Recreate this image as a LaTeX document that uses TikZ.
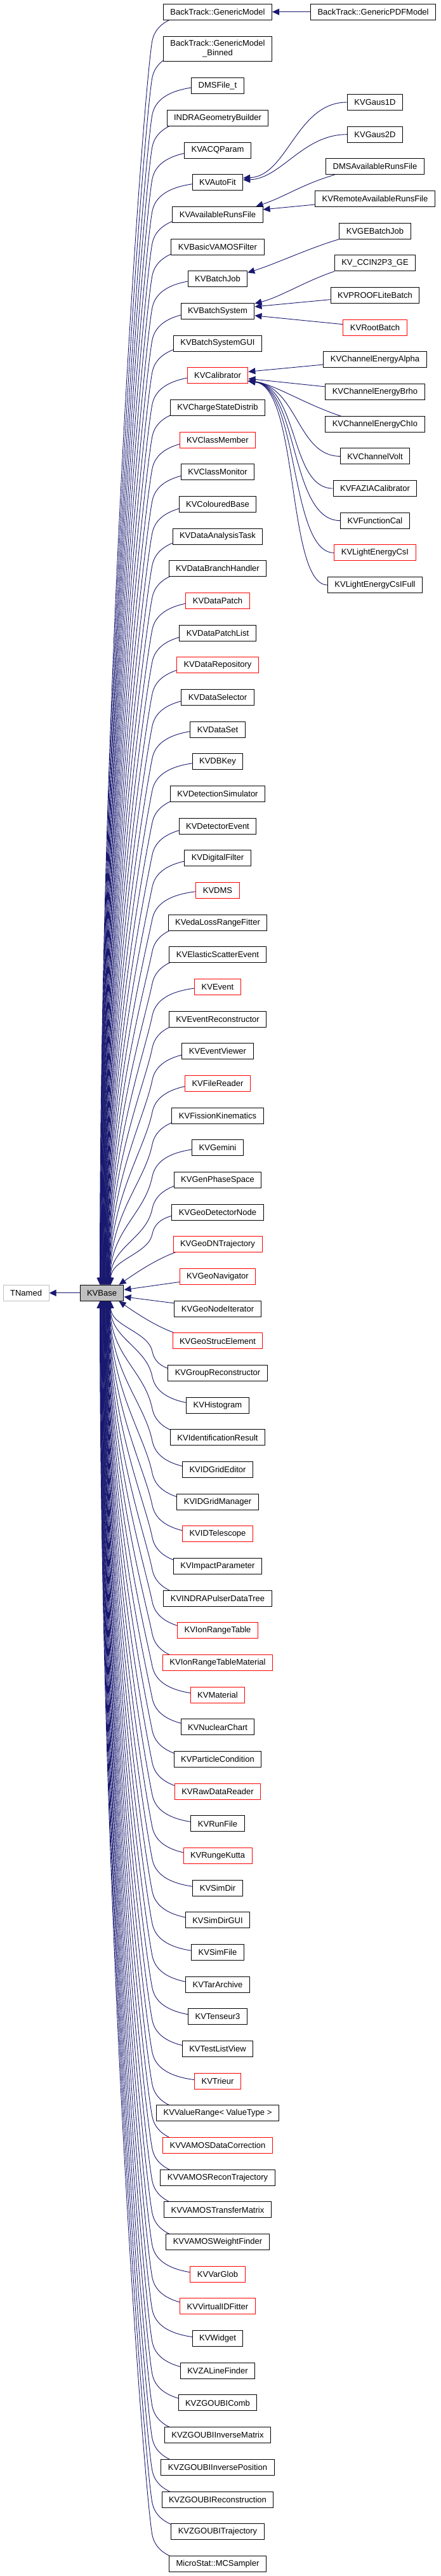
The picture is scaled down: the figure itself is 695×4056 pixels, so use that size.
\documentclass[tikz,border=0pt]{standalone}
\usepackage{fontspec}
\setmainfont{Liberation Sans}
\usetikzlibrary{arrows.meta,positioning,calc}

\definecolor{edgeblue}{HTML}{191970}
\definecolor{basegray}{HTML}{BFBFBF}

\pgfdeclarelayer{background}
\pgfsetlayers{background,main}

\tikzset{
  cls/.style={draw=black, fill=white, line width=1pt, minimum height=25pt,
    inner xsep=11pt, inner ysep=6pt, align=center, font=\fontsize{13}{15}\selectfont},
  redcls/.style={cls, draw=red},
  inh/.style={draw=edgeblue, line width=0.9pt, -{Triangle[length=11pt,width=10pt]}}
}

\begin{document}
\begin{tikzpicture}[x=1pt, y=-1pt, node distance=24.67pt]
  \useasboundingbox (0,0) rectangle (695,4056);

  % main column
  \node[cls] (btgenericmodel) at (343,18.7) {BackTrack::GenericModel};
  \node[cls, right=60pt of btgenericmodel] (btgenericpdfmodel) {BackTrack::GenericPDFModel};
  \node[cls, below=25pt of btgenericmodel] (btgenericmodelbinned) {BackTrack::GenericModel\\\_Binned};
  \node[cls, below=25.5pt of btgenericmodelbinned] (dmsfilet) {DMSFile\_t};
  \node[cls, below=of dmsfilet] (indrageometrybuilder) {INDRAGeometryBuilder};
  \node[cls, below=of indrageometrybuilder] (kvacqparam) {KVACQParam};
  \node[cls, below=of kvacqparam] (kvautofit) {KVAutoFit};
  \node[cls, below=of kvautofit] (kvavailablerunsfile) {KVAvailableRunsFile};
  \node[cls, below=of kvavailablerunsfile] (kvbasicvamosfilter) {KVBasicVAMOSFilter};
  \node[cls, below=of kvbasicvamosfilter] (kvbatchjob) {KVBatchJob};
  \node[cls, below=of kvbatchjob] (kvbatchsystem) {KVBatchSystem};
  \node[cls, below=of kvbatchsystem] (kvbatchsystemgui) {KVBatchSystemGUI};
  \node[redcls, below=of kvbatchsystemgui] (kvcalibrator) {KVCalibrator};
  \node[cls, below=of kvcalibrator] (kvchargestatedistrib) {KVChargeStateDistrib};
  \node[redcls, below=of kvchargestatedistrib] (kvclassmember) {KVClassMember};
  \node[cls, below=of kvclassmember] (kvclassmonitor) {KVClassMonitor};
  \node[cls, below=of kvclassmonitor] (kvcolouredbase) {KVColouredBase};
  \node[cls, below=of kvcolouredbase] (kvdataanalysistask) {KVDataAnalysisTask};
  \node[cls, below=of kvdataanalysistask] (kvdatabranchhandler) {KVDataBranchHandler};
  \node[redcls, below=of kvdatabranchhandler] (kvdatapatch) {KVDataPatch};
  \node[cls, below=of kvdatapatch] (kvdatapatchlist) {KVDataPatchList};
  \node[redcls, below=of kvdatapatchlist] (kvdatarepository) {KVDataRepository};
  \node[cls, below=of kvdatarepository] (kvdataselector) {KVDataSelector};
  \node[cls, below=of kvdataselector] (kvdataset) {KVDataSet};
  \node[cls, below=of kvdataset] (kvdbkey) {KVDBKey};
  \node[cls, below=of kvdbkey] (kvdetectionsimulator) {KVDetectionSimulator};
  \node[cls, below=of kvdetectionsimulator] (kvdetectorevent) {KVDetectorEvent};
  \node[cls, below=of kvdetectorevent] (kvdigitalfilter) {KVDigitalFilter};
  \node[redcls, below=of kvdigitalfilter] (kvdms) {KVDMS};
  \node[cls, below=of kvdms] (kvedalossrangefitter) {KVedaLossRangeFitter};
  \node[cls, below=of kvedalossrangefitter] (kvelasticscatterevent) {KVElasticScatterEvent};
  \node[redcls, below=of kvelasticscatterevent] (kvevent) {KVEvent};
  \node[cls, below=of kvevent] (kveventreconstructor) {KVEventReconstructor};
  \node[cls, below=of kveventreconstructor] (kveventviewer) {KVEventViewer};
  \node[redcls, below=of kveventviewer] (kvfilereader) {KVFileReader};
  \node[cls, below=of kvfilereader] (kvfissionkinematics) {KVFissionKinematics};
  \node[cls, below=of kvfissionkinematics] (kvgemini) {KVGemini};
  \node[cls, below=of kvgemini] (kvgenphasespace) {KVGenPhaseSpace};
  \node[cls, below=of kvgenphasespace] (kvgeodetectornode) {KVGeoDetectorNode};
  \node[redcls, below=of kvgeodetectornode] (kvgeodntrajectory) {KVGeoDNTrajectory};
  \node[redcls, below=of kvgeodntrajectory] (kvgeonavigator) {KVGeoNavigator};
  \node[cls, below=of kvgeonavigator] (kvgeonodeiterator) {KVGeoNodeIterator};
  \node[redcls, below=of kvgeonodeiterator] (kvgeostrucelement) {KVGeoStrucElement};
  \node[cls, below=of kvgeostrucelement] (kvgroupreconstructor) {KVGroupReconstructor};
  \node[cls, below=of kvgroupreconstructor] (kvhistogram) {KVHistogram};
  \node[cls, below=of kvhistogram] (kvidentificationresult) {KVIdentificationResult};
  \node[cls, below=of kvidentificationresult] (kvidgrideditor) {KVIDGridEditor};
  \node[cls, below=of kvidgrideditor] (kvidgridmanager) {KVIDGridManager};
  \node[redcls, below=of kvidgridmanager] (kvidtelescope) {KVIDTelescope};
  \node[cls, below=of kvidtelescope] (kvimpactparameter) {KVImpactParameter};
  \node[cls, below=of kvimpactparameter] (kvindrapulserdatatree) {KVINDRAPulserDataTree};
  \node[redcls, below=of kvindrapulserdatatree] (kvionrangetable) {KVIonRangeTable};
  \node[redcls, below=of kvionrangetable] (kvionrangetablematerial) {KVIonRangeTableMaterial};
  \node[redcls, below=of kvionrangetablematerial] (kvmaterial) {KVMaterial};
  \node[cls, below=of kvmaterial] (kvnuclearchart) {KVNuclearChart};
  \node[cls, below=of kvnuclearchart] (kvparticlecondition) {KVParticleCondition};
  \node[redcls, below=of kvparticlecondition] (kvrawdatareader) {KVRawDataReader};
  \node[cls, below=of kvrawdatareader] (kvrunfile) {KVRunFile};
  \node[redcls, below=of kvrunfile] (kvrungekutta) {KVRungeKutta};
  \node[cls, below=of kvrungekutta] (kvsimdir) {KVSimDir};
  \node[cls, below=of kvsimdir] (kvsimdirgui) {KVSimDirGUI};
  \node[cls, below=of kvsimdirgui] (kvsimfile) {KVSimFile};
  \node[cls, below=of kvsimfile] (kvtararchive) {KVTarArchive};
  \node[cls, below=of kvtararchive] (kvtenseur3) {KVTenseur3};
  \node[cls, below=of kvtenseur3] (kvtestlistview) {KVTestListView};
  \node[redcls, below=of kvtestlistview] (kvtrieur) {KVTrieur};
  \node[cls, below=of kvtrieur] (kvvaluerange) {KVValueRange< ValueType >};
  \node[redcls, below=of kvvaluerange] (kvvamosdatacorrection) {KVVAMOSDataCorrection};
  \node[cls, below=of kvvamosdatacorrection] (kvvamosrecontrajectory) {KVVAMOSReconTrajectory};
  \node[cls, below=of kvvamosrecontrajectory] (kvvamostransfermatrix) {KVVAMOSTransferMatrix};
  \node[cls, below=of kvvamostransfermatrix] (kvvamosweightfinder) {KVVAMOSWeightFinder};
  \node[redcls, below=of kvvamosweightfinder] (kvvarglob) {KVVarGlob};
  \node[redcls, below=of kvvarglob] (kvvirtualidfitter) {KVVirtualIDFitter};
  \node[cls, below=of kvvirtualidfitter] (kvwidget) {KVWidget};
  \node[cls, below=of kvwidget] (kvzalinefinder) {KVZALineFinder};
  \node[cls, below=of kvzalinefinder] (kvzgoubicomb) {KVZGOUBIComb};
  \node[cls, below=of kvzgoubicomb] (kvzgoubiinversematrix) {KVZGOUBIInverseMatrix};
  \node[cls, below=of kvzgoubiinversematrix] (kvzgoubiinverseposition) {KVZGOUBIInversePosition};
  \node[cls, below=of kvzgoubiinverseposition] (kvzgoubireconstruction) {KVZGOUBIReconstruction};
  \node[cls, below=of kvzgoubireconstruction] (kvzgoubitrajectory) {KVZGOUBITrajectory};
  \node[cls, below=of kvzgoubitrajectory] (microstatmcsampler) {MicroStat::MCSampler};

  % right column
  \node[cls] (kvgaus1d) at (591,161) {KVGaus1D};
  \node[cls, below=of kvgaus1d] (kvgaus2d) {KVGaus2D};
  \node[cls, below=of kvgaus2d] (dmsavailablerunsfile) {DMSAvailableRunsFile};
  \node[cls, below=of dmsavailablerunsfile] (kvremoteavailablerunsfile) {KVRemoteAvailableRunsFile};
  \node[cls, below=of kvremoteavailablerunsfile] (kvgebatchjob) {KVGEBatchJob};
  \node[cls, below=of kvgebatchjob] (kvccin2p3ge) {KV\_CCIN2P3\_GE};
  \node[cls, below=of kvccin2p3ge] (kvprooflitebatch) {KVPROOFLiteBatch};
  \node[redcls, below=of kvprooflitebatch] (kvrootbatch) {KVRootBatch};
  \node[cls, below=of kvrootbatch] (kvchannelenergyalpha) {KVChannelEnergyAlpha};
  \node[cls, below=of kvchannelenergyalpha] (kvchannelenergybrho) {KVChannelEnergyBrho};
  \node[cls, below=of kvchannelenergybrho] (kvchannelenergychio) {KVChannelEnergyChIo};
  \node[cls, below=of kvchannelenergychio] (kvchannelvolt) {KVChannelVolt};
  \node[cls, below=of kvchannelvolt] (kvfaziacalibrator) {KVFAZIACalibrator};
  \node[cls, below=of kvfaziacalibrator] (kvfunctioncal) {KVFunctionCal};
  \node[redcls, below=of kvfunctioncal] (kvlightenergycsi) {KVLightEnergyCsI};
  \node[cls, below=of kvlightenergycsi] (kvlightenergycsifull) {KVLightEnergyCsIFull};

  % base classes
  \node[cls, fill=basegray] (kvbase) at (160.5,2035.8) {KVBase};
  \node[cls, draw=basegray, left=48pt of kvbase] (tnamed) {TNamed};

  \begin{pgfonlayer}{background}
    \path (kvbase.north); \pgfgetlastxy{\bx}{\by}
    \pgfmathsetmacro{\ytop}{-(\by)}
    \path (kvbase.south); \pgfgetlastxy{\bx}{\by}
    \pgfmathsetmacro{\ybot}{-(\by)}

    % children above KVBase
    \foreach \n [count=\row from 0] in {btgenericmodel, btgenericmodelbinned, dmsfilet,
        indrageometrybuilder, kvacqparam, kvautofit, kvavailablerunsfile, kvbasicvamosfilter,
        kvbatchjob, kvbatchsystem, kvbatchsystemgui, kvcalibrator, kvchargestatedistrib,
        kvclassmember, kvclassmonitor, kvcolouredbase, kvdataanalysistask, kvdatabranchhandler,
        kvdatapatch, kvdatapatchlist, kvdatarepository, kvdataselector, kvdataset, kvdbkey,
        kvdetectionsimulator, kvdetectorevent, kvdigitalfilter, kvdms, kvedalossrangefitter,
        kvelasticscatterevent, kvevent, kveventreconstructor, kveventviewer, kvfilereader,
        kvfissionkinematics, kvgemini, kvgenphasespace, kvgeodetectornode} {
      \path (\n.center); \pgfgetlastxy{\cx}{\cy}
      \pgfmathsetmacro{\yc}{-(\cy)}
      \pgfmathsetmacro{\xt}{32+17*\row/37}
      \pgfmathsetmacro{\ym}{\yc+min(45,0.3*(\ytop-\yc))}
      \pgfmathsetmacro{\blen}{min(60,0.4*(\ytop-\ym))}
      \pgfmathsetmacro{\vlen}{0.5*(\ytop-\ym)}
      \draw[inh] (\n.center) .. controls (280,\yc) and (246,\ym-30) .. (240,\ym)
        .. controls (240-0.2*\blen,\ym+\blen) and ($(kvbase.north west)+(\xt,-\vlen)$)
        .. ($(kvbase.north west)+(\xt,0)$);
    }

    % children below KVBase
    \foreach \n [count=\row from 42] in {kvgroupreconstructor, kvhistogram,
        kvidentificationresult, kvidgrideditor, kvidgridmanager, kvidtelescope,
        kvimpactparameter, kvindrapulserdatatree, kvionrangetable, kvionrangetablematerial,
        kvmaterial, kvnuclearchart, kvparticlecondition, kvrawdatareader, kvrunfile,
        kvrungekutta, kvsimdir, kvsimdirgui, kvsimfile, kvtararchive, kvtenseur3,
        kvtestlistview, kvtrieur, kvvaluerange, kvvamosdatacorrection, kvvamosrecontrajectory,
        kvvamostransfermatrix, kvvamosweightfinder, kvvarglob, kvvirtualidfitter, kvwidget,
        kvzalinefinder, kvzgoubicomb, kvzgoubiinversematrix, kvzgoubiinverseposition,
        kvzgoubireconstruction, kvzgoubitrajectory, microstatmcsampler} {
      \path (\n.center); \pgfgetlastxy{\cx}{\cy}
      \pgfmathsetmacro{\yc}{-(\cy)}
      \pgfmathsetmacro{\xt}{32+17*(79-\row)/37}
      \pgfmathsetmacro{\ym}{\yc-min(45,0.3*(\yc-\ybot))}
      \pgfmathsetmacro{\blen}{min(60,0.4*(\ym-\ybot))}
      \pgfmathsetmacro{\vlen}{0.5*(\ym-\ybot)}
      \draw[inh] (\n.center) .. controls (280,\yc) and (246,\ym+30) .. (240,\ym)
        .. controls (240-0.2*\blen,\ym-\blen) and ($(kvbase.south west)+(\xt,\vlen)$)
        .. ($(kvbase.south west)+(\xt,0)$);
    }

    % children next to KVBase
    \draw[inh] (kvgeodntrajectory.center) .. controls ($(kvgeodntrajectory.center)+(-58,0)$)
      and ($(kvbase.north east)+(44,-36)$) .. ($(kvbase.north east)+(-8,0)$);
    \draw[inh] (kvgeonavigator) -- ($(kvbase.east)+(0,-5)$);
    \draw[inh] (kvgeonodeiterator) -- ($(kvbase.east)+(0,6)$);
    \draw[inh] (kvgeostrucelement.center) .. controls ($(kvgeostrucelement.center)+(-58,0)$)
      and ($(kvbase.south east)+(44,36)$) .. ($(kvbase.south east)+(-8,0)$);

    \draw[inh, line width=1.3pt] (kvbase) -- (tnamed);

    % right column to main column
    \draw[inh] (btgenericpdfmodel) -- (btgenericmodel);
    \draw[inh] (kvgaus1d.west) .. controls ($(kvgaus1d.west)+(-80,0)$)
      and ($(kvautofit.east)+(70,-10)$) .. ($(kvautofit.east)+(0,-7)$);
    \draw[inh] (kvgaus2d.west) .. controls ($(kvgaus2d.west)+(-70,0)$)
      and ($(kvautofit.east)+(60,-6)$) .. ($(kvautofit.east)+(0,-4)$);
    \draw[inh] ($(dmsavailablerunsfile.south west)+(14,0)$)
      .. controls ($(dmsavailablerunsfile.south west)+(-35,14)$)
      and ($(kvavailablerunsfile.north east)+(32,-14)$) .. ($(kvavailablerunsfile.north east)+(-11,0)$);
    \draw[inh] (kvremoteavailablerunsfile) -- ($(kvavailablerunsfile.east)+(0,-8)$);
    \draw[inh] (kvgebatchjob.south west) .. controls ($(kvgebatchjob.south west)+(-50,15)$)
      and ($(kvbatchjob.east)+(45,-24)$) .. ($(kvbatchjob.east)+(0,-10)$);
    \draw[inh] (kvccin2p3ge.south west) .. controls ($(kvccin2p3ge.south west)+(-45,15)$)
      and ($(kvbatchsystem.east)+(40,-22)$) .. ($(kvbatchsystem.east)+(0,-12)$);
    \draw[inh] (kvprooflitebatch) -- ($(kvbatchsystem.east)+(0,-7)$);
    \draw[inh] (kvrootbatch) -- ($(kvbatchsystem.east)+(0,7)$);
    \draw[inh] (kvchannelenergyalpha) -- ($(kvcalibrator.east)+(0,-6)$);
    \draw[inh] (kvchannelenergybrho) -- ($(kvcalibrator.east)+(0,5)$);
    \draw[inh] (kvchannelenergychio.center) .. controls ($(kvchannelenergychio.center)+(-80,-10)$)
      and ($(kvcalibrator.east)+(50,15)$) .. ($(kvcalibrator.east)+(0,8)$);
    \draw[inh] (kvchannelvolt.west) .. controls ($(kvchannelvolt.west)+(-67,0)$)
      and ($(kvcalibrator.east)+(78,18)$) .. ($(kvcalibrator.east)+(0,9)$);
    \draw[inh] (kvfaziacalibrator.west) .. controls ($(kvfaziacalibrator.west)+(-68,0)$)
      and ($(kvcalibrator.east)+(80,18)$) .. ($(kvcalibrator.east)+(0,9)$);
    \draw[inh] (kvfunctioncal.west) .. controls ($(kvfunctioncal.west)+(-80,0)$)
      and ($(kvcalibrator.east)+(80,18)$) .. ($(kvcalibrator.east)+(0,9)$);
    \draw[inh] (kvlightenergycsi.west) .. controls ($(kvlightenergycsi.west)+(-70,0)$)
      and ($(kvcalibrator.east)+(80,18)$) .. ($(kvcalibrator.east)+(0,9)$);
    \draw[inh] (kvlightenergycsifull.west) .. controls ($(kvlightenergycsifull.west)+(-64,0)$)
      and ($(kvcalibrator.east)+(80,18)$) .. ($(kvcalibrator.east)+(0,9)$);
  \end{pgfonlayer}
\end{tikzpicture}
\end{document}
